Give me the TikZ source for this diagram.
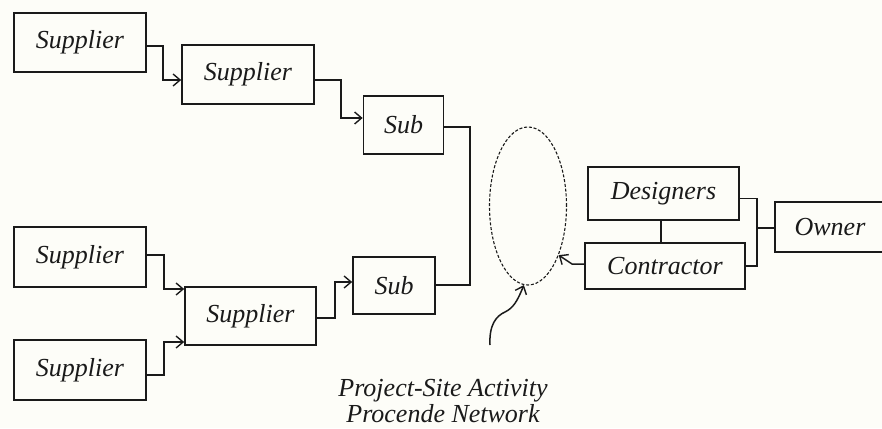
\documentclass[tikz,border=0pt]{standalone}
\usepackage{fontspec}
\setmainfont{Liberation Serif}
\usetikzlibrary{arrows.meta,shapes.geometric}
\definecolor{paper}{HTML}{FDFDF8}
\definecolor{ink}{HTML}{1A1A1A}
\begin{document}
\begin{tikzpicture}[x=1pt,y=-1pt,
  box/.style={draw=ink,line width=1.7pt,fill=paper,inner sep=0pt,
    font=\fontsize{26}{28}\selectfont\itshape,text=ink},
  conn/.style={draw=ink,line width=1.5pt},
  tip/.style={-{Straight Barb[length=7pt,width=12pt,line width=1.4pt]}}]
\fill[paper] (0,0) rectangle (882,428);
\useasboundingbox (0,0) rectangle (882,428);

% supplier chain, upper branch
\node[box,minimum width=132,minimum height=59] (s1) at (80,42.5) {Supplier};
\node[box,minimum width=132,minimum height=59] (s2) at (248,74.5) {Supplier};
\node[box,minimum width=80,minimum height=58] (sub1) at (403.5,125) {Sub};

% supplier chain, lower branch
\node[box,minimum width=132,minimum height=60] (s3) at (80,257) {Supplier};
\node[box,minimum width=132,minimum height=60] (s4) at (80,370) {Supplier};
\node[box,minimum width=131,minimum height=58] (s5) at (250.5,316) {Supplier};
\node[box,minimum width=82,minimum height=57] (sub2) at (394,285.5) {Sub};

% project site and its parties
\node[draw=ink,dash pattern=on 3pt off 1.8pt,line width=1.1pt,ellipse,
  minimum width=77,minimum height=158,inner sep=0pt] (site) at (528,206) {};
\node[box,minimum width=151,minimum height=53] (des) at (663.5,193.5) {Designers};
\node[box,minimum width=160,minimum height=46] (con) at (665,266) {Contractor};
\node[box,minimum width=110,minimum height=50] (own) at (830,227) {Owner};

\node[font=\fontsize{26}{26}\selectfont\itshape,text=ink,align=center,inner sep=0pt]
  (lbl) at (443,401) {Project-Site Activity\\Procende Network};

% upper branch connectors
\draw[conn,tip] (s1.east |- 0,46) -- (163,46) |- (s2.west |- 0,80);
\draw[conn,tip] (s2.east |- 0,80) -- (341,80) |- (sub1.west |- 0,118);

% lower branch connectors
\draw[conn,tip] (s3.east |- 0,255) -- (164,255) |- (s5.west |- 0,289);
\draw[conn,tip] (s4.east |- 0,375) -- (164,375) |- (s5.west |- 0,342);
\draw[conn,tip] (s5.east |- 0,318) -- (335,318) |- (sub2.west |- 0,282);

% the two sub branches join
\coordinate (join) at (470,127);
\draw[conn] (sub1.east |- 0,127) -- (join) |- (sub2.east |- 0,285);

% designers / contractor / owner links
\draw[conn] (des.south -| 661,0) -- (con.north -| 661,0);
\draw[conn,line width=1pt] (des.east |- 0,198) -- (757,198);
\draw[conn] (con.east |- 0,266) -- (757,266) -- (757,198);
\draw[conn] (757,228) -- (own.west |- 0,228);

% contractor into the site
\draw[conn,tip] (con.west |- 0,264) -- (572,264) -- (site.-58);

% label pointer
\draw[conn,tip] (490,345) .. controls (489,325) and (496,316) .. (505,312)
  .. controls (513,308) and (517,302) .. (site.-93);
\end{tikzpicture}
\end{document}
